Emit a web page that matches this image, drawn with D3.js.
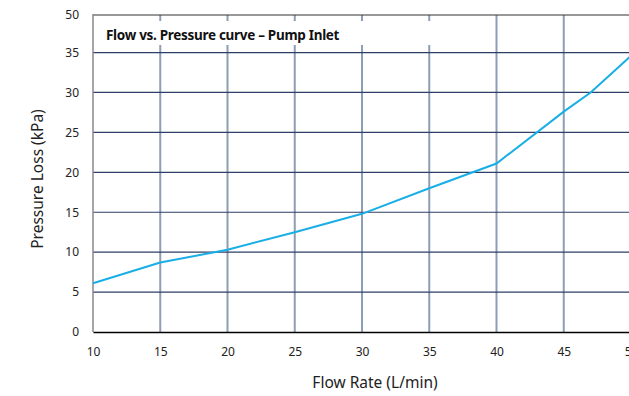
<!DOCTYPE html>
<html>
<head>
<meta charset="utf-8">
<script src="https://cdn.jsdelivr.net/npm/d3@7"></script>
<style>
  body { margin: 0; background: #fff; }
  svg { display: block; }
</style>
</head>
<body>
<svg id="drawing_region"></svg>
<script>
// values
const flowRate = [10, 15, 20, 25, 30, 35, 40, 45, 47, 50];
const pressureLoss = [6.1, 8.7, 10.3, 12.5, 14.8, 18.0, 21.1, 27.6, 30.0, 34.6];
const xTicks = [10, 15, 20, 25, 30, 35, 40, 45, 50];
const yTicks = [0, 5, 10, 15, 20, 25, 30, 35];
const yTopLabel = '50';
const title = 'Flow vs. Pressure curve \u2013 Pump Inlet';

const config = {
    width: 629,
    height: 396,
    margin: { top: 15, left: 93, bottom: 64 },
    plotRight: 631
};

const svg = d3.select('#drawing_region')
    .attr('width', config.width)
    .attr('height', config.height);

const bottom = config.height - config.margin.bottom;

const xscale = d3.scaleLinear()
    .domain([10, 50])
    .range([config.margin.left, config.plotRight]);

const yscale = d3.scaleLinear()
    .domain([0, 39.7])
    .range([bottom, config.margin.top]);

const font = "'Noto Sans', 'Open Sans', sans-serif";

// vertical grid
svg.append('g')
    .selectAll('line')
    .data(xTicks.filter(d => d > 10))
    .join('line')
    .attr('x1', d => xscale(d)).attr('x2', d => xscale(d))
    .attr('y1', config.margin.top).attr('y2', bottom)
    .attr('stroke', '#8e9db6')
    .attr('stroke-width', 2);

// horizontal grid
svg.append('g')
    .selectAll('line')
    .data(yTicks.filter(d => d > 0))
    .join('line')
    .attr('x1', config.margin.left).attr('x2', config.plotRight)
    .attr('y1', d => yscale(d)).attr('y2', d => yscale(d))
    .attr('stroke', '#2c3f66')
    .attr('stroke-width', 1.2);

// title box
svg.append('rect')
    .attr('x', config.margin.left + 1)
    .attr('y', 21)
    .attr('width', 372)
    .attr('height', 24)
    .attr('fill', '#fff');

svg.append('text')
    .attr('x', 106)
    .attr('y', 40)
    .attr('font-family', font)
    .attr('font-weight', 'bold')
    .attr('font-size', 13.5)
    .attr('letter-spacing', -0.3)
    .attr('fill', '#111')
    .text(title);

// frame
svg.append('line')
    .attr('x1', config.margin.left).attr('x2', config.plotRight)
    .attr('y1', config.margin.top).attr('y2', config.margin.top)
    .attr('stroke', '#333').attr('stroke-width', 1.2);

svg.append('line')
    .attr('x1', config.margin.left).attr('x2', config.margin.left)
    .attr('y1', config.margin.top - 1).attr('y2', bottom)
    .attr('stroke', '#888').attr('stroke-width', 1.5);

// curve
const line = d3.line()
    .x((d, i) => xscale(flowRate[i]))
    .y(d => yscale(d));

svg.append('path')
    .datum(pressureLoss)
    .attr('d', line)
    .attr('fill', 'none')
    .attr('stroke', '#1aaee6')
    .attr('stroke-width', 2);

// x axis
const xaxis = d3.axisBottom(xscale)
    .tickValues(xTicks)
    .tickSize(0)
    .tickPadding(15);

const xg = svg.append('g')
    .attr('transform', `translate(0, ${bottom})`)
    .call(xaxis);
xg.select('.domain').attr('stroke', '#000').attr('stroke-width', 1.5);
xg.selectAll('text')
    .attr('font-family', font)
    .attr('font-size', 12)
    .attr('fill', '#222');

// y axis
const yaxis = d3.axisLeft(yscale)
    .tickValues(yTicks)
    .tickSize(0)
    .tickPadding(14);

const yg = svg.append('g')
    .attr('transform', `translate(${config.margin.left}, 0)`)
    .call(yaxis);
yg.select('.domain').remove();
yg.selectAll('text')
    .attr('font-family', font)
    .attr('font-size', 12)
    .attr('fill', '#222');

svg.append('text')
    .attr('x', config.margin.left - 14)
    .attr('y', config.margin.top)
    .attr('dy', '0.32em')
    .attr('text-anchor', 'end')
    .attr('font-family', font)
    .attr('font-size', 12)
    .attr('fill', '#222')
    .text(yTopLabel);

// axis titles
svg.append('text')
    .attr('x', 375)
    .attr('y', 388)
    .attr('text-anchor', 'middle')
    .attr('font-family', font)
    .attr('font-size', 15.5)
    .attr('fill', '#222')
    .text('Flow Rate (L/min)');

svg.append('text')
    .attr('transform', 'translate(43, 179) rotate(-90)')
    .attr('text-anchor', 'middle')
    .attr('font-family', font)
    .attr('font-size', 15.5)
    .attr('fill', '#222')
    .text('Pressure Loss (kPa)');
</script>
</body>
</html>
